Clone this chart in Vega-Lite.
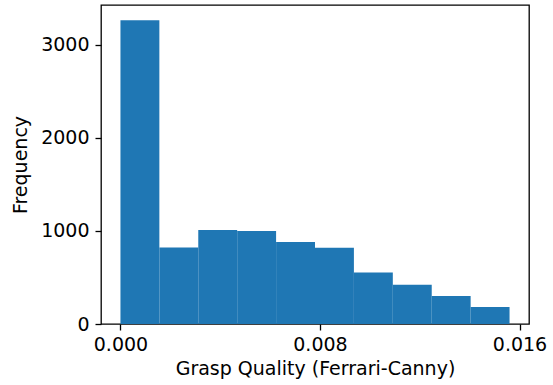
{
  "$schema": "https://vega.github.io/schema/vega-lite/v6.json",
  "width": 428,
  "height": 319,
  "autosize": {"type": "none"},
  "padding": {"left": 101, "top": 5, "right": 24, "bottom": 61},
  "background": "white",
  "config": {
    "view": {"stroke": "#000", "strokeWidth": 1.3},
    "axis": {
      "labelFont": "DejaVu Sans",
      "titleFont": "DejaVu Sans",
      "labelFontSize": 19,
      "titleFontSize": 19,
      "titleFontWeight": "normal",
      "labelColor": "#000",
      "titleColor": "#000",
      "tickColor": "#000",
      "tickSize": 6,
      "tickWidth": 1.3,
      "domain": false,
      "grid": false
    }
  },
  "data": {
    "values": [
      {"bin_start": 0.0, "bin_end": 0.00156, "count": 3265},
      {"bin_start": 0.00156, "bin_end": 0.00312, "count": 822},
      {"bin_start": 0.00312, "bin_end": 0.00468, "count": 1010},
      {"bin_start": 0.00468, "bin_end": 0.00624, "count": 1000},
      {"bin_start": 0.00624, "bin_end": 0.0078, "count": 882},
      {"bin_start": 0.0078, "bin_end": 0.00936, "count": 820},
      {"bin_start": 0.00936, "bin_end": 0.01092, "count": 554},
      {"bin_start": 0.01092, "bin_end": 0.01248, "count": 421},
      {"bin_start": 0.01248, "bin_end": 0.01404, "count": 300},
      {"bin_start": 0.01404, "bin_end": 0.0156, "count": 182}
    ]
  },
  "mark": {"type": "rect", "color": "#1f77b4"},
  "encoding": {
    "x": {
      "field": "bin_start",
      "type": "quantitative",
      "scale": {"domain": [-0.00078, 0.01638], "nice": false, "zero": false},
      "axis": {"values": [0, 0.008, 0.016], "format": ".3f", "title": "Grasp Quality (Ferrari-Canny)", "labelPadding": 5, "titlePadding": 5}
    },
    "x2": {"field": "bin_end"},
    "y": {
      "field": "count",
      "type": "quantitative",
      "scale": {"domain": [0, 3428], "nice": false},
      "axis": {"values": [0, 1000, 2000, 3000], "format": "d", "title": "Frequency", "labelPadding": 6, "titlePadding": 10}
    },
    "y2": {"datum": 0}
  }
}
